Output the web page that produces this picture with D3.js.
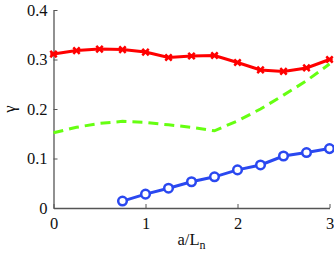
<!DOCTYPE html>
<html>
<head>
<meta charset="utf-8">
<script src="https://cdn.jsdelivr.net/npm/d3@7"></script>
<style>
body { margin: 0; background: #fff; }
svg text { font-family: "Liberation Serif", "Times New Roman", serif; }
</style>
</head>
<body>
<div id="chart"></div>
<script>
// values
var red_x = [0, 0.25, 0.5, 0.75, 1, 1.25, 1.5, 1.75, 2, 2.25, 2.5, 2.75, 3]
var red_y = [0.311, 0.318, 0.321, 0.320, 0.315, 0.304, 0.307, 0.308, 0.294, 0.279, 0.276, 0.283, 0.300]
var green_x = [0, 0.25, 0.5, 0.75, 1, 1.25, 1.5, 1.75, 2, 2.25, 2.5, 2.75, 3]
var green_y = [0.152, 0.163, 0.171, 0.175, 0.173, 0.168, 0.163, 0.156, 0.176, 0.200, 0.228, 0.257, 0.291]
var blue_x = [0.75, 1, 1.25, 1.5, 1.75, 2, 2.25, 2.5, 2.75, 3]
var blue_y = [0.014, 0.028, 0.040, 0.053, 0.063, 0.077, 0.087, 0.105, 0.112, 0.120]
var x_ticks = [0, 1, 2, 3]
var y_ticks = [0, 0.1, 0.2, 0.3, 0.4]

const width = 334, height = 255
const margin = { top: 10, left: 53.5, right: 4.5, bottom: 47 }
const fontSize = 16.5

const svg = d3.select("#chart").append("svg").attr("width", width).attr("height", height)

const x = d3.scaleLinear().domain([0, 3]).range([margin.left, width - margin.right])
const y = d3.scaleLinear().domain([0, 0.4]).range([height - margin.bottom, margin.top])

// axes (left and bottom only, ticks pointing in)
const axisColor = "#555"
svg.append("g")
    .attr("transform", `translate(0, ${y(0)})`)
    .call(d3.axisBottom(x).tickValues(x_ticks).tickFormat(d3.format("d")).tickSizeInner(-4).tickSizeOuter(0).tickPadding(9))
    .call(g => g.select(".domain").attr("stroke", axisColor).attr("stroke-width", 1.3))
    .call(g => g.selectAll(".tick line").attr("stroke", axisColor))
    .call(g => g.selectAll("text").attr("font-size", fontSize).attr("fill", "#111"))

svg.append("g")
    .attr("transform", `translate(${x(0)}, 0)`)
    .call(d3.axisLeft(y).tickValues(y_ticks).tickFormat(d => d === 0 ? "0" : d3.format(".1f")(d)).tickSizeInner(-4).tickSizeOuter(0).tickPadding(6))
    .call(g => g.select(".domain").attr("stroke", axisColor).attr("stroke-width", 1.3))
    .call(g => g.selectAll(".tick line").attr("stroke", axisColor))
    .call(g => g.selectAll("text").attr("font-size", fontSize).attr("fill", "#111"))

// axis labels
svg.append("text")
    .attr("transform", `translate(15, ${y(0.2)}) rotate(-90)`)
    .attr("text-anchor", "middle")
    .attr("font-size", fontSize)
    .attr("fill", "#111")
    .text("γ")

var xl = svg.append("text")
    .attr("x", x(1.5))
    .attr("y", 245)
    .attr("text-anchor", "middle")
    .attr("font-size", fontSize)
    .attr("fill", "#111")
xl.append("tspan").text("a/L")
xl.append("tspan").attr("font-size", 12).attr("dy", 4).text("n")

const line = d3.line().x(d => x(d[0])).y(d => y(d[1]))

// green dashed
svg.append("path")
    .datum(d3.zip(green_x, green_y))
    .attr("d", line)
    .attr("fill", "none")
    .attr("stroke", "#66ff11")
    .attr("stroke-width", 3)
    .attr("stroke-dasharray", "10,6")

// red with x markers
const red = d3.zip(red_x, red_y)
svg.append("path")
    .datum(red)
    .attr("d", line)
    .attr("fill", "none")
    .attr("stroke", "#ff0000")
    .attr("stroke-width", 3)
const s = 3.2
svg.append("g").selectAll("path")
    .data(red)
    .join("path")
    .attr("d", d => {
        let cx = x(d[0]), cy = y(d[1])
        return `M${cx - s},${cy - s}L${cx + s},${cy + s}M${cx - s},${cy + s}L${cx + s},${cy - s}M${cx - s},${cy}L${cx + s},${cy}`
    })
    .attr("stroke", "#ff0000")
    .attr("stroke-width", 2.5)

// blue with circles
const blue = d3.zip(blue_x, blue_y)
svg.append("path")
    .datum(blue)
    .attr("d", line)
    .attr("fill", "none")
    .attr("stroke", "#2a48f0")
    .attr("stroke-width", 3)
svg.append("g").selectAll("circle")
    .data(blue)
    .join("circle")
    .attr("cx", d => x(d[0]))
    .attr("cy", d => y(d[1]))
    .attr("r", 4.3)
    .attr("fill", "#fff")
    .attr("stroke", "#2a48f0")
    .attr("stroke-width", 2.5)
</script>
</body>
</html>
